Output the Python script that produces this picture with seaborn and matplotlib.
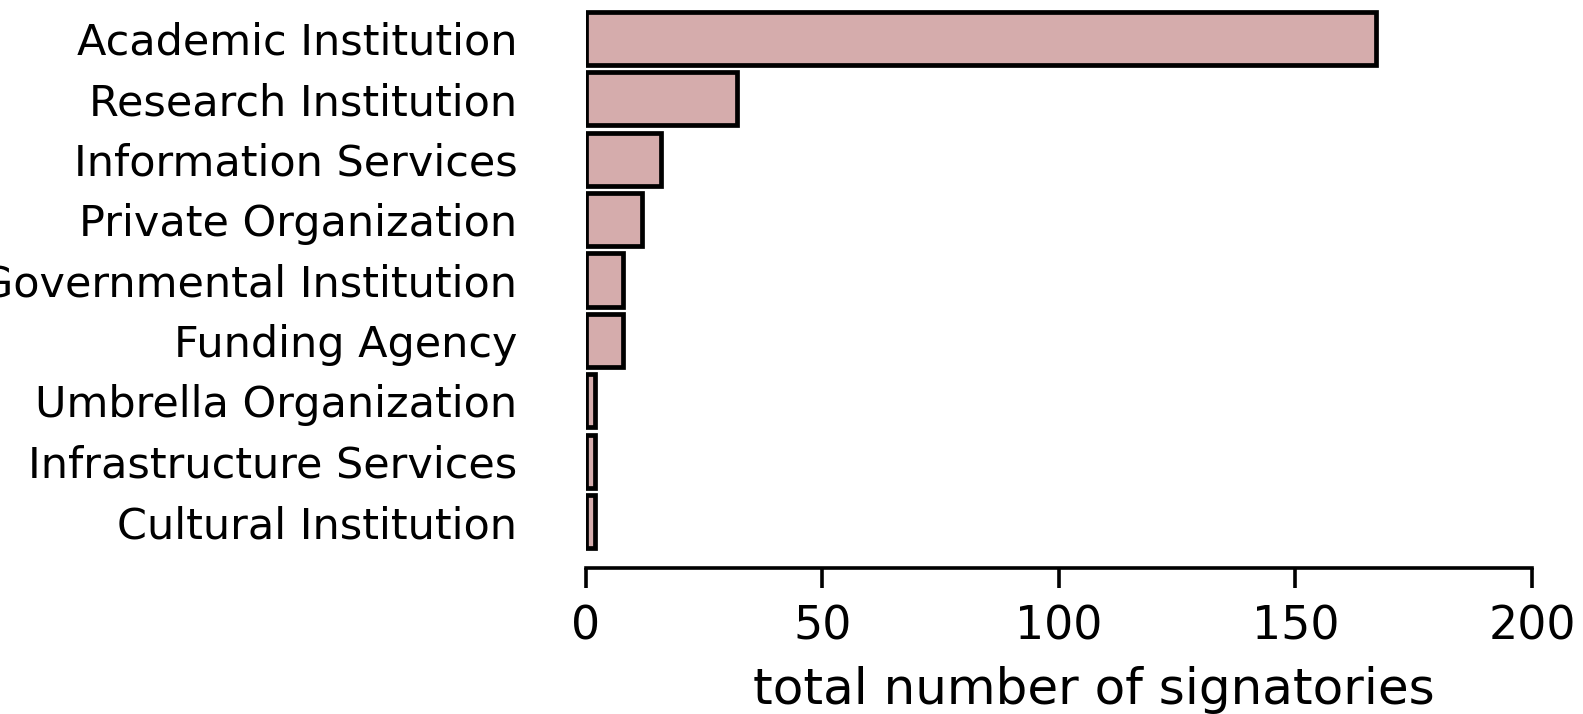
import matplotlib
matplotlib.use("Agg")
import matplotlib.pyplot as plt
import seaborn as sns
import pandas as pd

categories = ["Academic Institution", "Research Institution", "Information Services",
              "Private Organization", "Governmental Institution", "Funding Agency",
              "Umbrella Organization", "Infrastructure Services", "Cultural Institution"]
signatories = [167, 32, 16, 12, 8, 8, 2, 2, 2]
x_ticks = [0, 50, 100, 150, 200]
x_label = "total number of signatories"

sns.set_style("white")
plt.rcParams['font.family'] = ['DejaVu Sans']
plt.rcParams['text.color'] = 'black'
plt.rcParams['xtick.color'] = 'black'
plt.rcParams['ytick.color'] = 'black'
plt.rcParams['axes.labelcolor'] = 'black'

df = pd.DataFrame({"category": categories, "count": signatories})

fig = plt.figure(figsize=(15.83, 7.14), dpi=100)
ax = fig.add_axes([0.3699, 0.2273, 0.5979, 0.7611])

sns.barplot(data=df, x="count", y="category", orient="h", ax=ax,
            color="#D5ACAC", saturation=1, width=0.88,
            edgecolor="black", linewidth=3.4)

for s in ["top", "right", "left"]:
    ax.spines[s].set_visible(False)
ax.spines["bottom"].set_position(("outward", 11.5))
ax.spines["bottom"].set_linewidth(2.6)
ax.spines["bottom"].set_color("black")

ax.set_xlim(0, 200)
ax.set_ylim(8.5, -0.5)
ax.spines["bottom"].set_bounds(0, 200)
ax.set_xticks(x_ticks)
ax.set_xticklabels([str(t) for t in x_ticks], fontsize=33)
ax.set_yticks(range(len(categories)))
ax.set_yticklabels(categories, fontsize=31)
ax.set_ylabel("")
ax.set_xlabel(x_label, fontsize=36)
ax.xaxis.set_label_coords(0.537, -0.211)

ax.tick_params(axis="x", bottom=True, length=14.4, width=2.6, pad=12, colors="black")
ax.tick_params(axis="y", left=False, length=0, pad=49, colors="black")

fig.savefig("out.png", dpi=100, facecolor="white")
